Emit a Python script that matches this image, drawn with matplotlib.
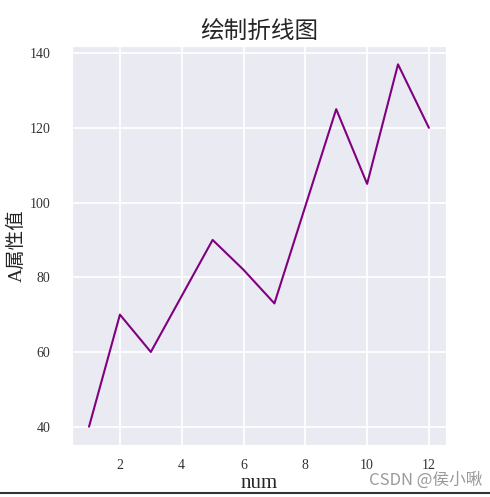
import matplotlib
matplotlib.use("Agg")
import matplotlib.pyplot as plt
import seaborn as sns
from matplotlib.lines import Line2D

num = [1, 2, 3, 4, 5, 6, 7, 8, 9, 10, 11, 12]
values = [40, 70, 60, 75, 90, 82, 73, 99, 125, 105, 137, 120]

sns.set_style("darkgrid")
plt.rcParams['font.family'] = ['Liberation Serif', 'Noto Sans CJK SC']
plt.rcParams['axes.unicode_minus'] = False

fig = plt.figure(figsize=(4.9, 4.97), dpi=100)
ax = fig.add_axes([0.147, 0.105, 0.763, 0.802])
ax.plot(num, values, color="purple", lw=1.5)
ax.set_xticks([2, 4, 6, 8, 10, 12])
ax.grid(lw=1.3)
ax.tick_params(axis="y", labelsize=10, colors="#333333", pad=12)
ax.tick_params(axis="x", labelsize=10, colors="#333333", pad=7)
ax.set_title("绘制折线图", fontsize=17, pad=5)
ax.set_ylabel("A属性值", fontsize=14, labelpad=3)
ax.set_xlabel("num", fontsize=15, labelpad=1)

fig.text(0.985, 0.034, "CSDN @侯小啾", ha="right", va="center", fontsize=12,
         color="#9a9a9a", family=['Noto Sans CJK SC'])
fig.add_artist(Line2D([0, 1], [0.008, 0.008], color="#333333", lw=1.5))

fig.savefig("out.png", dpi=100)
